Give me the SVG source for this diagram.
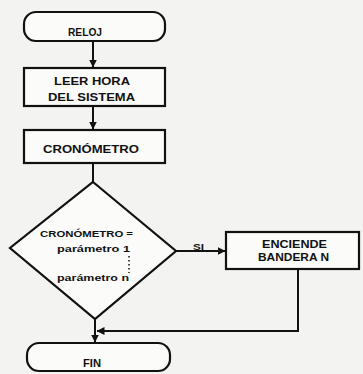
<svg xmlns="http://www.w3.org/2000/svg" width="363" height="374" viewBox="0 0 363 374">
<defs>
<marker id="ah" viewBox="0 0 8 8" refX="7.5" refY="4" markerWidth="4" markerHeight="4" orient="auto" markerUnits="strokeWidth">
<path d="M0,0 L8,4 L0,8 z" fill="#111"/>
</marker>
<style>
.s{fill:#fbfbf9;stroke:#111;stroke-width:2.2}
.c{fill:none;stroke:#111;stroke-width:2}
.t{font-family:"Liberation Sans",Arial,sans-serif;font-weight:bold;font-size:10px;fill:#111}
.l{font-family:"Liberation Sans",Arial,sans-serif;font-weight:bold;font-size:9px;fill:#111}
</style>
</defs>
<rect width="363" height="374" fill="#f3f3f1"/>
<g id="connectors">
<line class="c" x1="93" y1="41" x2="93" y2="67" marker-end="url(#ah)"/>
<line class="c" x1="93" y1="106" x2="93" y2="129" marker-end="url(#ah)"/>
<line class="c" x1="93" y1="163" x2="93" y2="182"/>
<line class="c" x1="95" y1="319" x2="95" y2="342" marker-end="url(#ah)"/>
<line class="c" x1="176" y1="251" x2="225" y2="251" marker-end="url(#ah)"/>
<polyline class="c" points="298,269 298,331 97,331" marker-end="url(#ah)"/>
<text class="l" x="193" y="250" textLength="11" lengthAdjust="spacingAndGlyphs">SI</text>
</g>
<g id="reloj">
<rect class="s" x="24" y="12" width="141" height="29" rx="12"/>
<text class="t" x="68" y="36" textLength="34" lengthAdjust="spacingAndGlyphs">RELOJ</text>
</g>
<g id="leer">
<rect class="s" x="24" y="68" width="141" height="38"/>
<text class="t" x="54" y="85" textLength="76" lengthAdjust="spacingAndGlyphs">LEER HORA</text>
<text class="t" x="48" y="100.5" textLength="87" lengthAdjust="spacingAndGlyphs">DEL SISTEMA</text>
</g>
<g id="cronometro">
<rect class="s" x="24" y="130" width="141" height="33"/>
<text class="t" x="43" y="153" textLength="96" lengthAdjust="spacingAndGlyphs">CRONÓMETRO</text>
</g>
<g id="decision">
<polygon class="s" points="93,182 176,251 95,319 10,248"/>
<text class="l" x="40" y="237" textLength="93" lengthAdjust="spacingAndGlyphs">CRONÓMETRO =</text>
<text class="l" x="57" y="252" textLength="73" lengthAdjust="spacingAndGlyphs">parámetro 1</text>
<line x1="129" y1="256" x2="129" y2="273" stroke="#111" stroke-width="1.5" stroke-dasharray="1.5 2.5"/>
<text class="l" x="57" y="281" textLength="72" lengthAdjust="spacingAndGlyphs">parámetro n</text>
</g>
<g id="enciende">
<rect class="s" x="226" y="232" width="133" height="37"/>
<text class="t" x="262" y="248" textLength="65" lengthAdjust="spacingAndGlyphs">ENCIENDE</text>
<text class="t" x="258" y="261" textLength="71" lengthAdjust="spacingAndGlyphs">BANDERA N</text>
</g>
<g id="fin">
<rect class="s" x="27" y="343" width="143" height="28" rx="12"/>
<text class="t" x="83" y="367" textLength="18" lengthAdjust="spacingAndGlyphs">FIN</text>
</g>
</svg>
